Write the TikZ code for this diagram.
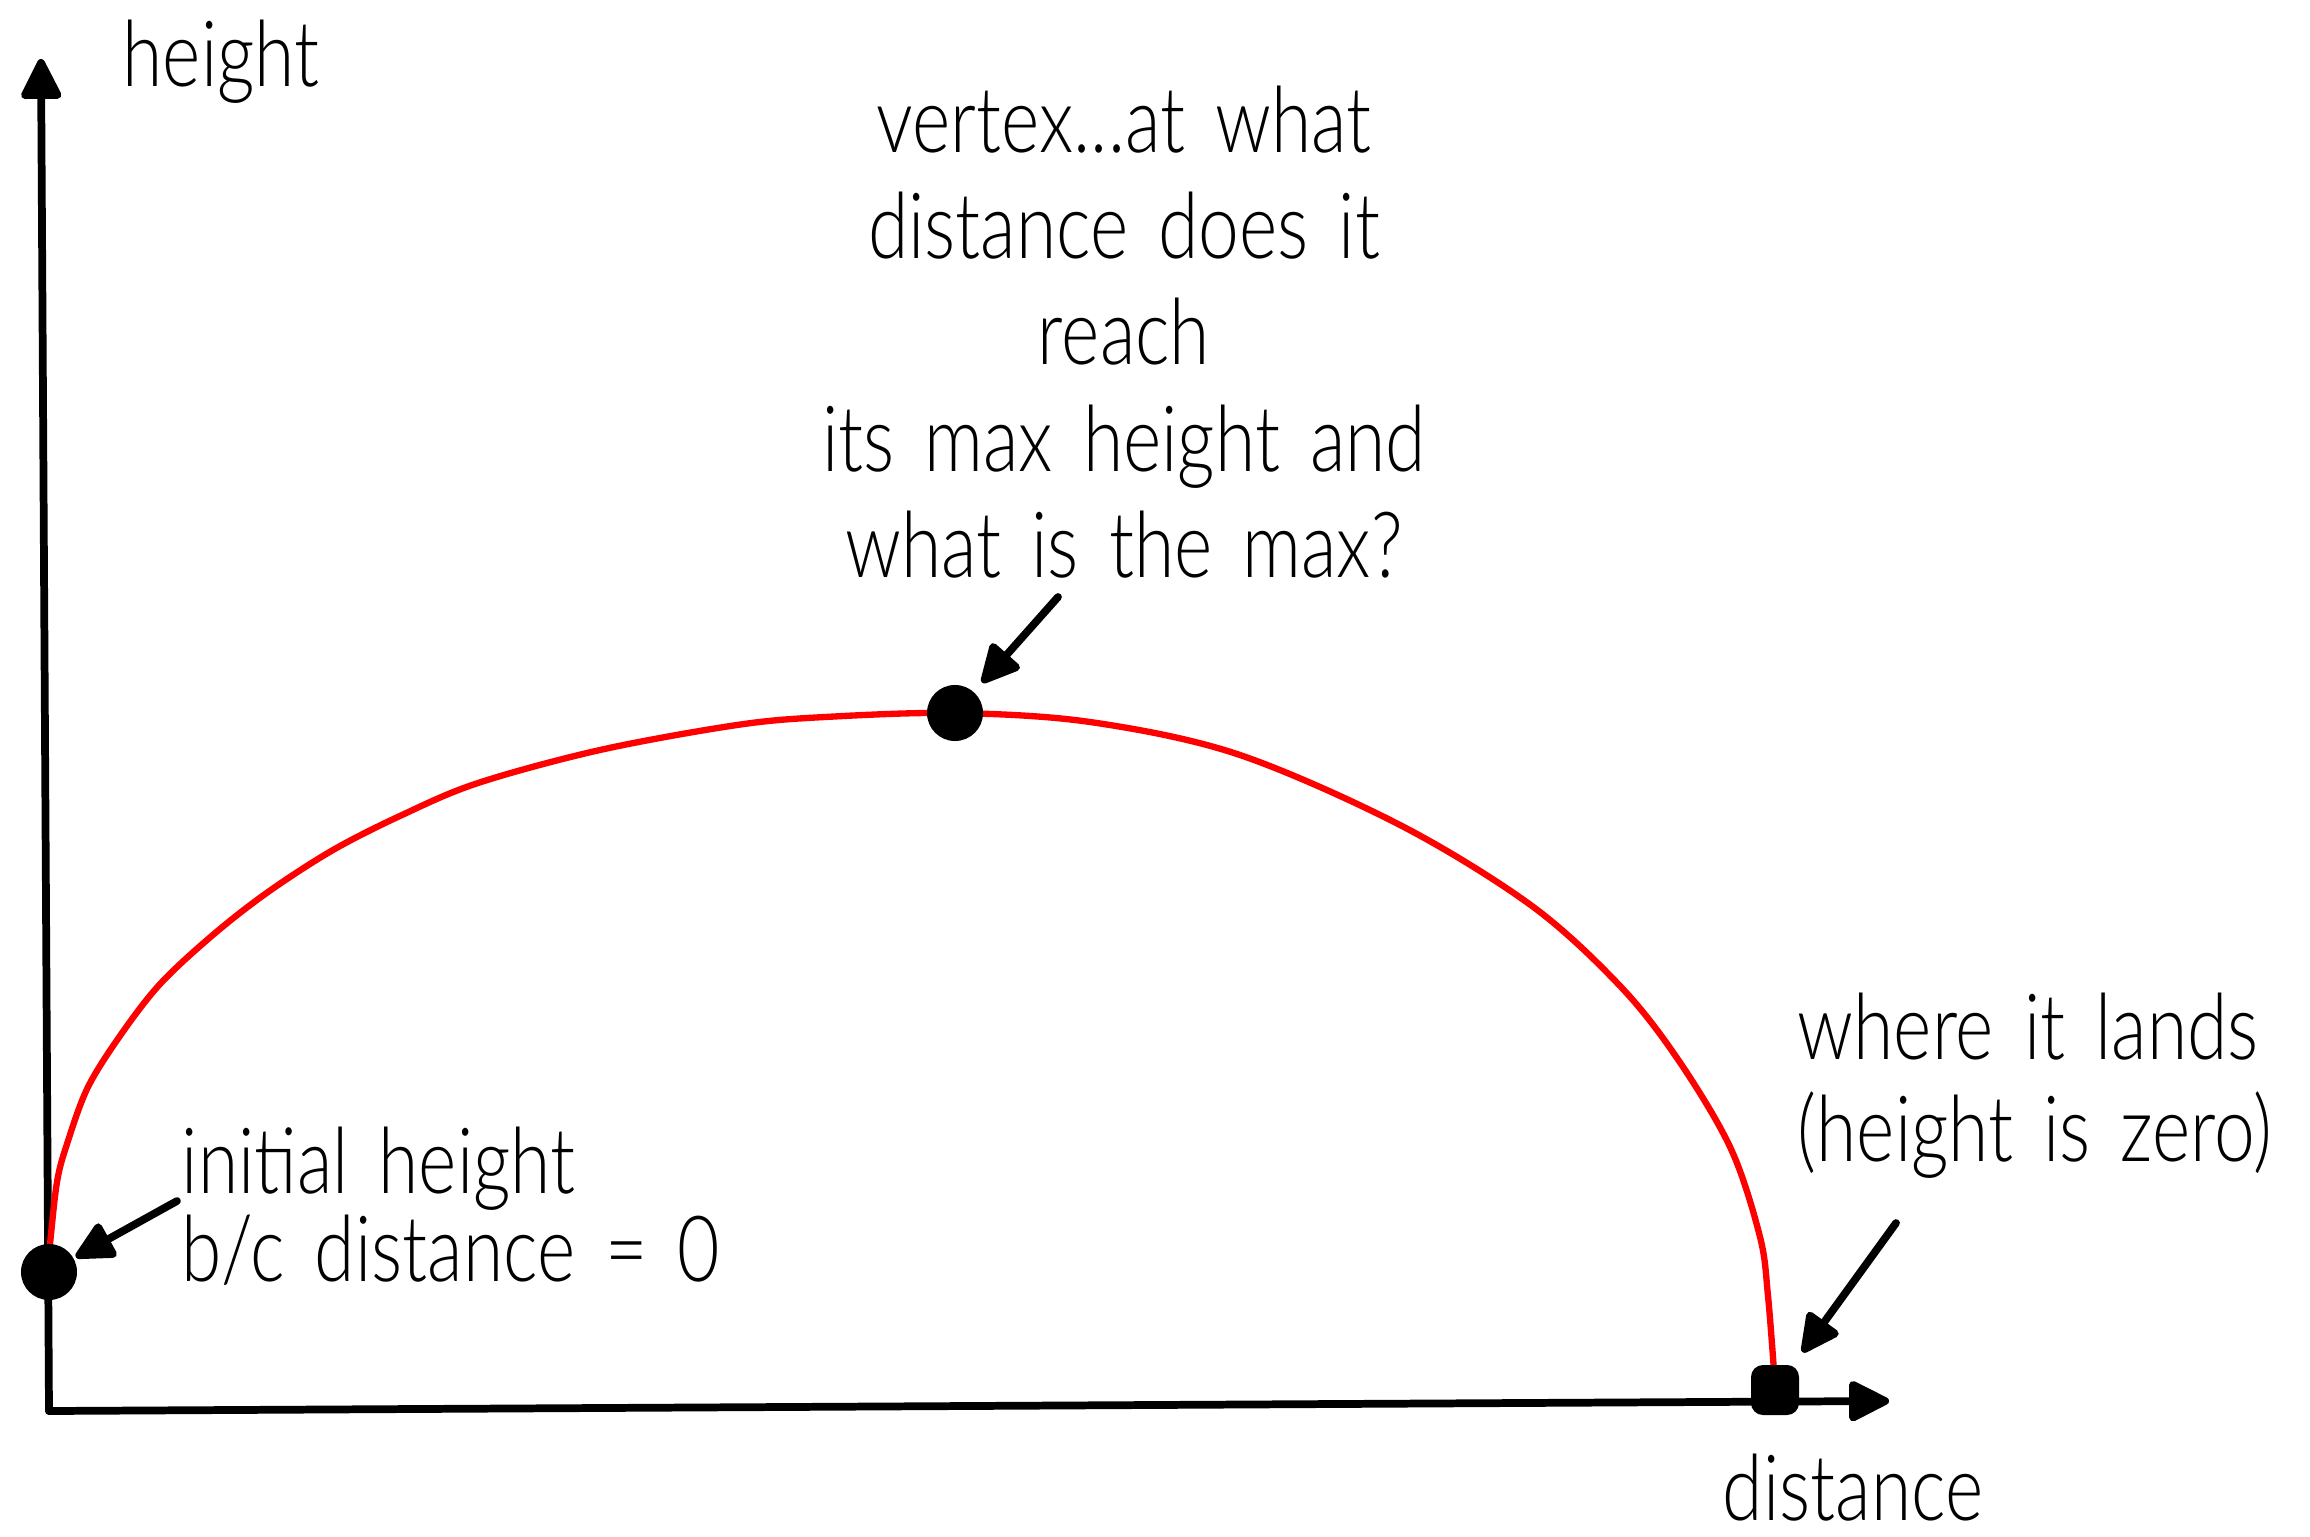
\documentclass[tikz,border=0pt]{standalone}
\usepackage{fontspec}
\setmainfont{Lato Light}[FakeStretch=0.80]
\usetikzlibrary{arrows.meta}
\newcommand\handfont[1]{\fontsize{26}{#1}\selectfont\spaceskip 3.0mm plus 1mm minus 0.5mm\relax}
\begin{document}
\begin{tikzpicture}[x=0.01cm,y=-0.01cm,
  axis/.style={line width=2.2pt, line cap=round, -{Triangle[length=4.5mm,width=4.3mm,round]}},
  pointer/.style={line width=2.2pt, line cap=round, -{Triangle[length=4.3mm,width=4.1mm,round]}},
  path/.style={red, line width=1.8pt, line cap=round},
  txt/.style={inner sep=0pt, font=\handfont{#1}},
  txt/.default=30,
  dot/.style={circle, fill=black, minimum size=5.6mm, inner sep=0pt},
  sqdot/.style={rectangle, rounded corners=1.2mm, fill=black, minimum width=4.8mm, minimum height=5mm, inner sep=0pt}]
\useasboundingbox (0,0) rectangle (2310,1537);

% axes
\coordinate (O) at (49,1411);
\coordinate (ytip) at (41,59);
\coordinate (xtip) at (1889,1401);
\draw[axis] (O) -- (ytip);
\draw[axis] (O) -- (xtip);

% trajectory
\draw[path] plot[smooth, tension=0.55] coordinates {
  (47,1275) (50,1244) (57,1182) (67,1144) (88,1087) (122,1033) (161,983)
  (214,934) (268,892) (333,850) (402,815) (478,783) (600,750) (737,725)
  (825,717) (955,713) (1090,722) (1237,754) (1400,825) (1532,906)
  (1621,987) (1679,1061) (1731,1149) (1760,1237) (1768,1296) (1775,1385)};

% points
\node[dot] (start) at (49,1272) {};
\node[dot] (vertex) at (955,713) {};
\node[sqdot] (land) at (1775,1390) {};

% labels
\node[txt] (hlab) at (221,62) {height};
\node[txt] (dlab) at (1853,1488) {distance};
\node[txt=30.2, align=center] (vtext) at (1124,332)
  {vertex...at what\\distance does it\\reach\\its max height and\\what is the max?};
\node[txt=25, align=left, anchor=west] (itext) at (181,1206)
  {initial height\\b/c distance = 0};
\node[txt=29, align=left, anchor=west] (wtext) at (1797,1086)
  {where it lands\\(height is zero)};

% pointers
\coordinate (vtail) at (1058,597);
\coordinate (itail) at (177,1201);
\coordinate (wtail) at (1896,1223);
\draw[pointer, shorten >=1.2mm] (vtail) -- (vertex);
\draw[pointer, shorten >=0.2mm] (itail) -- (start);
\draw[pointer, shorten >=1.5mm] (wtail) -- (land);
\end{tikzpicture}
\end{document}
